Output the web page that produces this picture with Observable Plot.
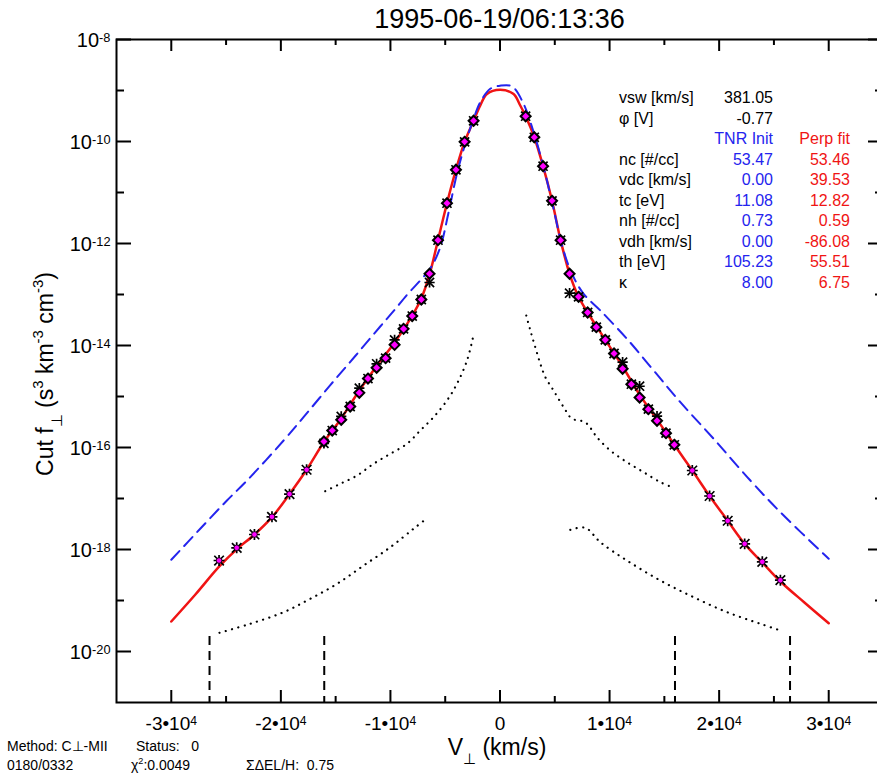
<!DOCTYPE html>
<html>
<head>
<meta charset="utf-8">
<script src="https://cdn.jsdelivr.net/npm/d3@7"></script>
<script src="https://cdn.jsdelivr.net/npm/@observablehq/plot@0.6"></script>
<style>
  html, body { margin: 0; padding: 0; background: #fff; overflow: hidden; }
  #chart svg { display: block; }
</style>
</head>
<body>
<div id="chart"></div>
<script>
// ---------- data ----------
const title = "1995-06-19/06:13:36";

// core points (diamonds) and raw data (asterisks), V_perp in km/s
const vCore = [-16070,-15310,-14490,-13670,-12840,-12050,-11260,-10440,-9620,-8800,-8010,-7180,-6430,-5660,-4840,-4020,-3230,-2410,
               2340,3130,3930,4750,5530,6350,7170,8000,8790,9610,10410,11190,11990,12740,13540,14330,15150,15910];
const fCore = [1.31e-16,2.15e-16,3.49e-16,6.37e-16,1.18e-15,2.25e-15,3.66e-15,5.64e-15,1.03e-14,2.12e-14,3.78e-14,7.98e-14,2.55e-13,1.16e-12,6.17e-12,2.79e-11,9.86e-11,2.55e-10,
               3.13e-10,1.21e-10,3.28e-11,6.87e-12,1.16e-12,2.55e-13,9.02e-14,4.44e-14,2.29e-14,1.29e-14,6.97e-15,3.49e-15,1.74e-15,9.55e-16,5.64e-16,3.34e-16,1.91e-16,1.13e-16];
const fCoreRaw = [1.21e-16,2.15e-16,4.06e-16,6.37e-16,1.46e-15,2.25e-15,4.38e-15,5.64e-15,1.29e-14,2.12e-14,3.78e-14,7.98e-14,1.72e-13,1.16e-12,6.17e-12,2.79e-11,9.86e-11,2.55e-10,
                  3.13e-10,1.21e-10,3.28e-11,6.87e-12,1.16e-12,1.06e-13,9.02e-14,4.44e-14,2.29e-14,1.29e-14,6.97e-15,4.71e-15,1.74e-15,1.59e-15,5.64e-16,4.11e-16,1.91e-16,1.13e-16];

// halo points (asterisk + magenta dot)
const vHalo = [-25640,-24030,-22410,-20810,-19210,-17650,17550,19130,20780,22330,23940,25590];
const fHalo = [6.08e-19,1.08e-18,1.97e-18,4.38e-18,1.22e-17,3.66e-17,3.54e-17,1.12e-17,3.66e-18,1.29e-18,5.74e-19,2.50e-19];

// Perp fit model (red)
const vFit = [-30000,-27800,-25620,-24010,-22400,-20810,-19210,-17650,-16070,-14490,-12840,-11260,-9620,-8010,-7180,-6430,-5660,-4840,-4020,-3230,-2410,-1800,-1190,0,
              1240,1800,2340,3130,3930,4750,5530,6350,7170,8000,9610,11190,12740,14330,15910,17550,19130,20780,22330,23940,25590,27780,30000];
const fFit = [3.87e-20,1.31e-19,4.65e-19,1.02e-18,1.97e-18,4.30e-18,1.22e-17,3.66e-17,1.28e-16,3.71e-16,1.31e-15,3.96e-15,1.15e-14,3.87e-14,8.36e-14,2.47e-13,1.16e-12,6.17e-12,2.79e-11,9.86e-11,2.55e-10,5.08e-10,8.53e-10,1.03e-9,
              8.53e-10,5.31e-10,3.13e-10,1.21e-10,3.28e-11,6.87e-12,1.16e-12,2.55e-13,9.02e-14,4.44e-14,1.29e-14,3.87e-15,1.09e-15,3.54e-16,1.13e-16,3.54e-17,1.12e-17,3.66e-18,1.29e-18,5.56e-19,2.36e-19,9.14e-20,3.59e-20];

// TNR Init model (blue dashed)
const vInit = [-30000,-27360,-24920,-23090,-19750,-17930,-15490,-13210,-10930,-9740,-8370,-7280,-6360,-5450,-4690,-3930,-3170,-2410,-1800,-890,0,
               1100,2150,3070,3980,4890,5660,6570,7630,9160,11590,14020,16460,19500,22850,25590,30000];
const fInit = [6.28e-19,2.55e-18,9.14e-18,2.25e-17,1.37e-16,3.93e-16,1.67e-15,6.22e-15,2.36e-14,4.65e-14,1.05e-13,1.88e-13,3.24e-13,8.45e-13,4.11e-12,2.33e-11,9.02e-11,2.79e-10,5.90e-10,1.08e-9,1.24e-9,
               1.20e-9,5.48e-10,1.52e-10,3.13e-11,4.79e-12,9.14e-13,2.55e-13,1.03e-13,4.85e-14,1.35e-14,3.24e-15,7.73e-16,1.48e-16,2.25e-17,5.38e-18,6.58e-19];

// dotted curves
const vDotUL = [-15950,-14580,-13050,-11540,-10010,-8490,-7280,-6060,-4840,-3930,-3010,-2460];
const fDotUL = [1.39e-17,1.94e-17,2.82e-17,4.79e-17,7.52e-17,1.18e-16,2.15e-16,3.93e-16,8.36e-16,1.77e-15,5.08e-15,1.46e-14];
const vDotUR = [2400,2770,3220,3680,4140,4890,5810,6570,7330,7940,8850,10070,11590,13110,14630,15700];
const fDotUR = [3.87e-14,1.97e-14,9.27e-15,4.38e-15,2.39e-15,1.31e-15,6.17e-16,3.66e-16,3.38e-16,2.92e-16,1.59e-16,8.73e-17,5.15e-17,3.28e-17,2.09e-17,1.67e-17];
const vDotLL = [-25600,-22790,-19750,-17320,-14880,-12450,-10010,-7890,-6660];
const fDotLL = [2.33e-20,3.49e-20,5.90e-20,1.08e-19,2.12e-19,4.85e-19,1.11e-18,2.55e-18,4.11e-18];
const vDotLR = [6420,7790,9160,11590,14630,17670,20720,23760,25590];
const fDotLR = [2.43e-18,2.66e-18,1.39e-18,6.08e-19,2.47e-19,1.16e-19,5.90e-20,3.49e-20,2.58e-20];

// vertical dashed cut markers
const vCuts = [-26510,-16040,15970,26470];
const fCutTop = 1.97e-20;

// axis ticks
const yMajor = [1e-8,1e-10,1e-12,1e-14,1e-16,1e-18,1e-20];
const yMinor = [1e-9,1e-11,1e-13,1e-15,1e-17,1e-19];
const xMajor = [-30000,-20000,-10000,0,10000,20000,30000];
const xMinor = [-25000,-15000,-5000,5000,15000,25000];

// parameter table
const paramLabels = ["vsw [km/s]","φ [V]","","nc [#/cc]","vdc [km/s]","tc [eV]","nh [#/cc]","vdh [km/s]","th [eV]","κ"];
const initValues  = ["381.05","-0.77","TNR Init","53.47","0.00","11.08","0.73","0.00","105.23","8.00"];
const fitValues   = ["","","Perp fit","53.46","39.53","12.82","0.59","-86.08","55.51","6.75"];

// footer
const footer = {method: "Method: C⊥-MII", status: "Status:   0", record: "0180/0332", chi2: "0.0049", esum: "ΣΔEL/H:  0.75"};

// ---------- chart ----------
const W = 877, H = 776;
const mL = 116, mT = 39, mB = 74, mR = -6;
const frameW = W - mL - mR, frameH = H - mT - mB;
const RED = "#f01414", BLUE = "#2424ee", MAG = "#ff00ff";
const FONT = "'Liberation Sans', Arial, Helvetica, sans-serif";
const DOTS = {stroke: "black", strokeWidth: 2.2, strokeDasharray: "0.1,6.4", strokeLinecap: "round", curve: "catmull-rom"};

const chart = Plot.plot({
  width: W, height: H,
  marginLeft: mL, marginTop: mT, marginBottom: mB, marginRight: mR,
  style: {fontFamily: FONT, background: "white", color: "black"},
  x: {domain: [-35000, 35000], axis: null},
  y: {type: "log", domain: [1e-21, 1e-8], axis: null},
  marks: [
    // curves
    Plot.line(vFit, {x: vFit, y: fFit, stroke: RED, strokeWidth: 2.5, curve: "catmull-rom"}),
    Plot.line(vInit, {x: vInit, y: fInit, stroke: BLUE, strokeWidth: 2, strokeDasharray: "12,7", curve: "catmull-rom"}),
    Plot.line(vDotUL, {x: vDotUL, y: fDotUL, ...DOTS}),
    Plot.line(vDotUR, {x: vDotUR, y: fDotUR, ...DOTS}),
    Plot.line(vDotLL, {x: vDotLL, y: fDotLL, ...DOTS}),
    Plot.line(vDotLR, {x: vDotLR, y: fDotLR, ...DOTS}),
    Plot.ruleX(vCuts, {x: d => d, y1: fCutTop, y2: 1e-21, stroke: "black", strokeWidth: 2, strokeDasharray: "9,6"}),
    // raw asterisks
    Plot.dot(vCore, {x: vCore, y: fCoreRaw, symbol: "plus", r: 3.4, stroke: "black", strokeWidth: 1.7}),
    Plot.dot(vCore, {x: vCore, y: fCoreRaw, symbol: "times", r: 4.2, stroke: "black", strokeWidth: 1.7}),
    Plot.dot(vHalo, {x: vHalo, y: fHalo, symbol: "plus", r: 3.6, stroke: "black", strokeWidth: 1.7}),
    Plot.dot(vHalo, {x: vHalo, y: fHalo, symbol: "times", r: 4.4, stroke: "black", strokeWidth: 1.7}),
    // fitted points
    Plot.dot(vCore, {x: vCore, y: fCore, symbol: "diamond2", r: 4.5, fill: MAG, stroke: "black", strokeWidth: 2}),
    Plot.dot(vHalo, {x: vHalo, y: fHalo, r: 2.8, fill: MAG, stroke: "black", strokeWidth: 0.8}),
    // frame + ticks (inward, on all four sides)
    Plot.frame({stroke: "black", strokeWidth: 2}),
    Plot.tickY(yMajor, {y: d => d, insetRight: frameW - 15, stroke: "black", strokeWidth: 2}),
    Plot.tickY(yMinor, {y: d => d, insetRight: frameW - 8, stroke: "black", strokeWidth: 2}),
    Plot.tickY(yMajor, {y: d => d, insetLeft: frameW - 15, stroke: "black", strokeWidth: 2}),
    Plot.tickY(yMinor, {y: d => d, insetLeft: frameW - 8, stroke: "black", strokeWidth: 2}),
    Plot.tickX(xMajor, {x: d => d, insetTop: frameH - 12, stroke: "black", strokeWidth: 2}),
    Plot.tickX(xMinor, {x: d => d, insetTop: frameH - 6, stroke: "black", strokeWidth: 2}),
    Plot.tickX(xMajor, {x: d => d, insetBottom: frameH - 12, stroke: "black", strokeWidth: 2}),
    Plot.tickX(xMinor, {x: d => d, insetBottom: frameH - 6, stroke: "black", strokeWidth: 2}),
    // tick labels
    Plot.text(yMajor, {y: d => d, frameAnchor: "left", textAnchor: "end", dx: -6, dy: 1.5, fontSize: 20,
                       text: d => "10^" + Math.round(Math.log10(d))}),
    Plot.text(xMajor, {x: d => d, frameAnchor: "bottom", lineAnchor: "top", dy: 14, fontSize: 19,
                       text: d => d === 0 ? "0" : `${d / 1e4}•10^4`})
  ]
});

document.getElementById("chart").appendChild(chart);
const svg = d3.select(chart);

// superscripts in tick labels
svg.selectAll("text").each(function () {
  const t = this.textContent;
  if (t.includes("^")) {
    const [base, sup] = t.split("^");
    const el = d3.select(this);
    el.selectAll("*").remove();
    el.text(base);
    el.append("tspan").attr("dy", "-0.45em").attr("font-size", "0.64em").text(sup);
  }
});

// helper for rich text
function rich(sel, parts, size) {
  let cur = 0;
  sel.attr("font-size", size);
  for (const [s, k] of parts) {
    const off = k === "sup" ? -0.42 * size : k === "sub" ? 0.38 * size : 0;
    sel.append("tspan").attr("dy", off - cur).attr("font-size", k === "n" ? size : size * 0.65).text(s);
    cur = off;
  }
}

const ann = svg.append("g").attr("font-family", FONT).attr("fill", "black").attr("text-anchor", "start");

// title
ann.append("text").attr("x", 499.5).attr("y", 28).attr("text-anchor", "middle").attr("font-size", 27).text(title);

// y title
const yt = ann.append("text").attr("text-anchor", "middle").attr("transform", "translate(53,374) rotate(-90)");
rich(yt, [["Cut f", "n"], ["⊥", "sub"], [" (s", "n"], ["3", "sup"], [" km", "n"], ["-3", "sup"], [" cm", "n"], ["-3", "sup"], [")", "n"]], 23);

// x title
const xt = ann.append("text").attr("text-anchor", "middle").attr("x", 497).attr("y", 755);
rich(xt, [["V", "n"], ["⊥", "sub"], [" (km/s)", "n"]], 23);

// parameter table
const rowY = i => 103 + i * 20.5;
paramLabels.forEach((s, i) => {
  ann.append("text").attr("x", 619).attr("y", rowY(i)).attr("font-size", 16).text(s);
  ann.append("text").attr("x", 773).attr("y", rowY(i)).attr("font-size", 16).attr("text-anchor", "end")
     .attr("fill", i < 2 ? "black" : BLUE).text(initValues[i]);
  ann.append("text").attr("x", 850).attr("y", rowY(i)).attr("font-size", 16).attr("text-anchor", "end")
     .attr("fill", RED).text(fitValues[i]);
});

// footer
ann.append("text").attr("x", 7).attr("y", 751).attr("font-size", 14).text(footer.method);
ann.append("text").attr("x", 136).attr("y", 751).attr("font-size", 14).style("white-space", "pre").text(footer.status);
ann.append("text").attr("x", 7).attr("y", 770).attr("font-size", 14).text(footer.record);
const chi = ann.append("text").attr("x", 131).attr("y", 770);
rich(chi, [["χ", "n"], ["2", "sup"], [":" + footer.chi2, "n"]], 14);
ann.append("text").attr("x", 246).attr("y", 770).attr("font-size", 14).style("white-space", "pre").text(footer.esum);
</script>
</body>
</html>
